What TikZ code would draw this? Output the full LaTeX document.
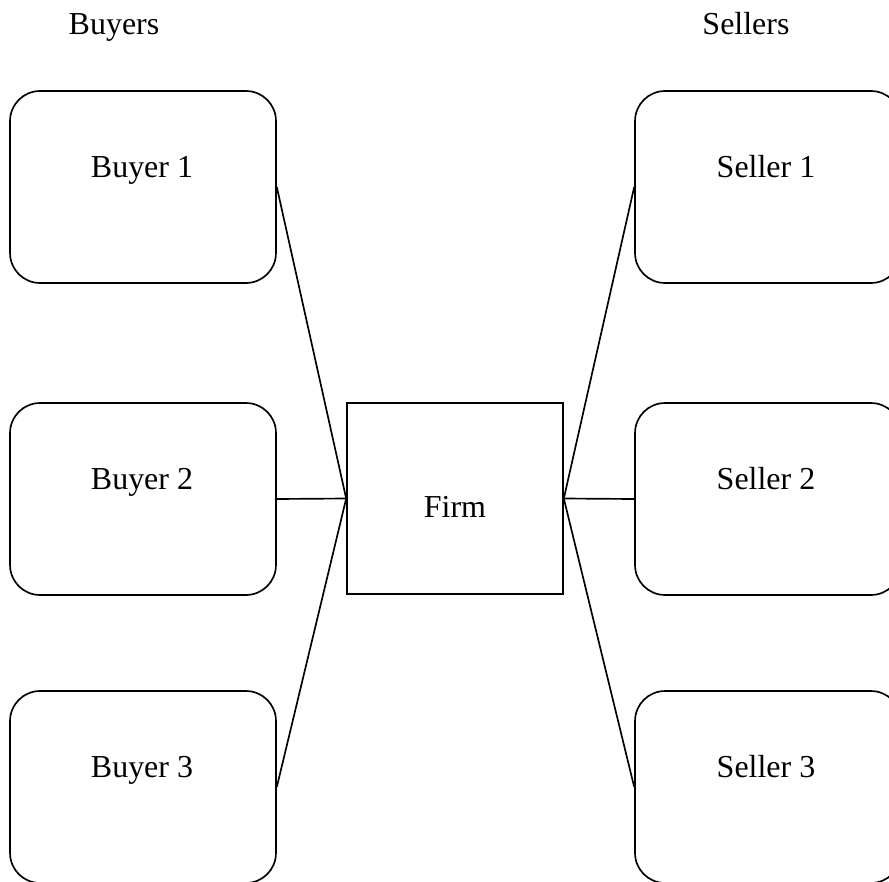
\documentclass[tikz,border=0pt]{standalone}
\usepackage{fontspec}
\setmainfont{Liberation Serif}
\begin{document}
\begin{tikzpicture}[x=0.02cm,y=-0.02cm,line width=0.95pt,
  every node/.style={font=\fontsize{18.2}{22}\selectfont},
  party/.style={draw,rounded corners=0.6cm,minimum width=5.32cm,minimum height=3.84cm},
  firmbox/.style={draw,minimum width=4.32cm,minimum height=3.82cm}]
\useasboundingbox (0,0) rectangle (889,882);
\clip (0,0) rectangle (889,882);
\node[anchor=base] (buyers) at (114,35) {Buyers};
\node[anchor=base] (sellers) at (746,35) {Sellers};
\node[firmbox] (firm) at (455,498.5) {};
\node[anchor=base] (firmtext) at (455,517) {Firm};
\foreach \y/\n in {187/1, 499/2, 787/3} {
    \node[party] (b\n) at (143,\y) {};
    \node[anchor=base] (bt\n) at (142,\y-10) {Buyer \n};
    \node[party] (s\n) at (768,\y) {};
    \node[anchor=base] (st\n) at (766,\y-10) {Seller \n};
    \draw (b\n.east) -- (firm.west);
    \draw (s\n.west) -- (firm.east);
}
\end{tikzpicture}
\end{document}
